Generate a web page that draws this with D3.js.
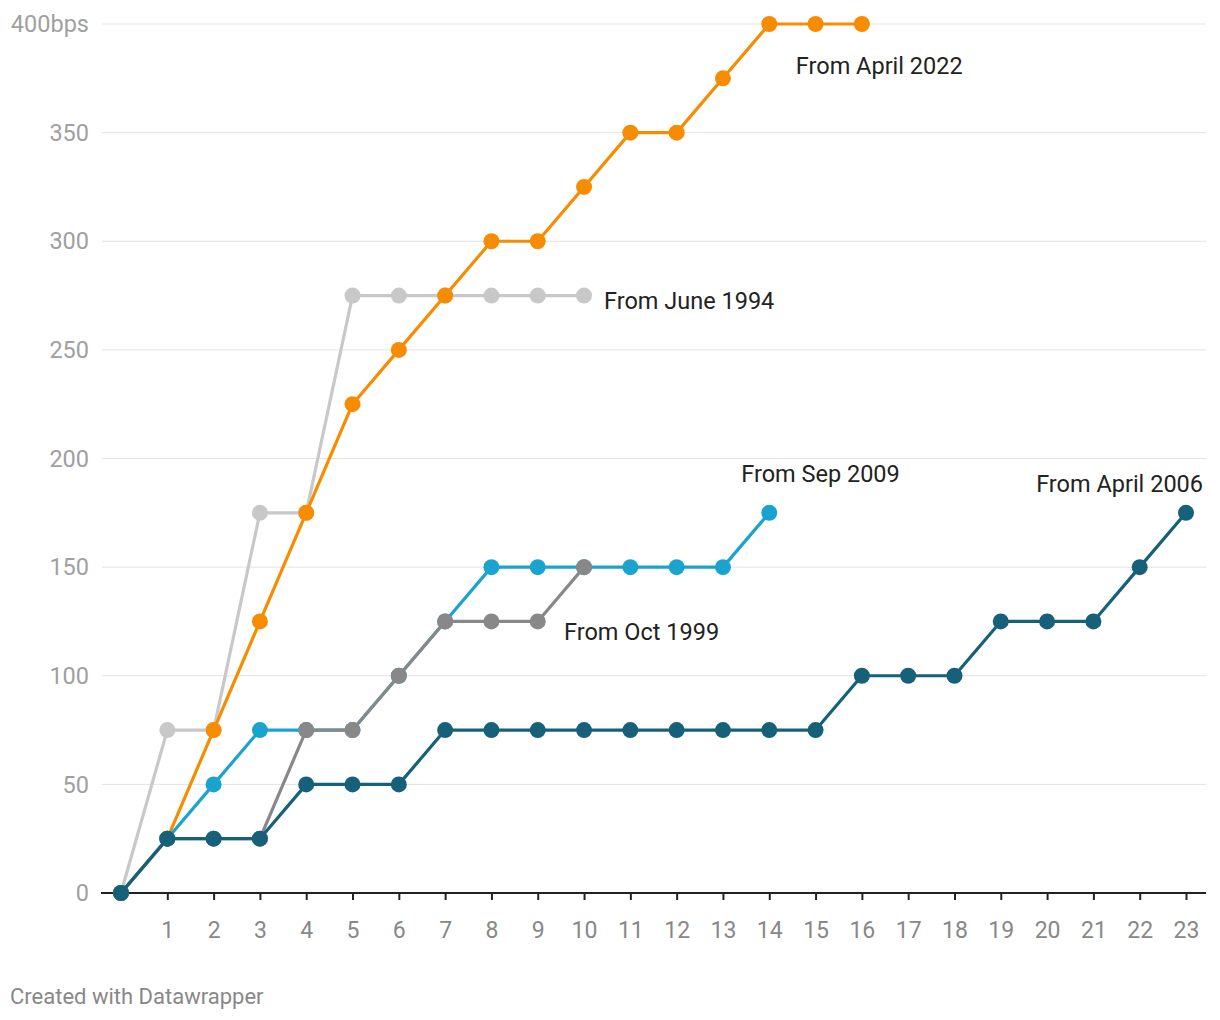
<!DOCTYPE html>
<html><head><meta charset="utf-8">
<script src="https://cdn.jsdelivr.net/npm/d3@7"></script>
<style>body{margin:0;background:#fff;font-family:Roboto,"Noto Sans",sans-serif}</style>
</head><body><svg id="c" width="1220" height="1020"></svg>
<script>
const xTicks = d3.range(1, 24);
const yTicks = [0, 50, 100, 150, 200, 250, 300, 350, 400];
const june1994 = [0, 75, 75, 175, 175, 275, 275, 275, 275, 275, 275];
const april2022 = [0, 25, 75, 125, 175, 225, 250, 275, 300, 300, 325, 350, 350, 375, 400, 400, 400];
const sep2009 = [0, 25, 50, 75, 75, 75, 100, 125, 150, 150, 150, 150, 150, 150, 175];
const oct1999 = [0, 25, 25, 25, 75, 75, 100, 125, 125, 125, 150];
const april2006 = [0, 25, 25, 25, 50, 50, 50, 75, 75, 75, 75, 75, 75, 75, 75, 75, 100, 100, 100, 125, 125, 125, 150, 175];
const seriesNames = ["From June 1994", "From April 2022", "From Sep 2009", "From Oct 1999", "From April 2006"];
const seriesColors = ["#c8c8c8", "#f88c00", "#1aa3cf", "#888888", "#17607a"];
const seriesData = [june1994, april2022, sep2009, oct1999, april2006];

const svg = d3.select("#c");
const x = d3.scaleLinear().domain([0, 23]).range([121, 1186]);
const y = d3.scaleLinear().domain([0, 400]).range([893, 24]);

// gridlines
svg.append("g").selectAll("line").data(yTicks.filter(d => d > 0)).join("line")
  .attr("x1", 102).attr("x2", 1206).attr("y1", d => y(d)).attr("y2", d => y(d))
  .attr("stroke", "#e3e3e3").attr("stroke-width", 1);
// y labels
svg.append("g").selectAll("text").data(yTicks).join("text")
  .attr("x", 89).attr("y", d => y(d)).attr("dy", "0.35em").attr("text-anchor", "end")
  .attr("fill", "#a0a0a0").attr("font-size", 23.5)
  .text(d => d === 400 ? "400bps" : d);
// x axis
const xAxis = d3.axisBottom(x).tickValues(xTicks).tickSize(7).tickPadding(22).tickFormat(d => d);
const gx = svg.append("g").attr("transform", "translate(0,893)").call(xAxis);
gx.select(".domain").remove();
gx.selectAll(".tick line").attr("stroke", "#222").attr("stroke-width", 2);
gx.selectAll(".tick text").attr("fill", "#888").attr("font-size", 23).attr("font-family", "Roboto");
svg.append("line").attr("x1", 101).attr("x2", 1206).attr("y1", 893).attr("y2", 893)
  .attr("stroke", "#222").attr("stroke-width", 2);

const line = d3.line().x((d, i) => x(i)).y(d => y(d));
seriesData.forEach((arr, k) => {
  const g = svg.append("g");
  g.append("path").attr("d", line(arr)).attr("fill", "none")
    .attr("stroke", seriesColors[k]).attr("stroke-width", 3.2).attr("stroke-linejoin", "round");
  g.selectAll("circle").data(arr).join("circle")
    .attr("cx", (d, i) => x(i)).attr("cy", d => y(d)).attr("r", 8).attr("fill", seriesColors[k]);
});

// labels
const labelPos = [
  {s: 0, dx: 20, dy: 5, anchor: "start", ref: 10},
  {s: 1, dx: -66, dy: 42, anchor: "start", ref: 16},
  {s: 2, dx: -28, dy: -39, anchor: "start", ref: 14},
  {s: 3, dx: -20, dy: 65, anchor: "start", ref: 10},
  {s: 4, dx: 17, dy: -29, anchor: "end", ref: 23}
];
labelPos.forEach(p => {
  const arr = seriesData[p.s];
  svg.append("text").attr("x", x(p.ref) + p.dx).attr("y", y(arr[p.ref]) + p.dy)
    .attr("dy", "0.35em").attr("text-anchor", p.anchor).attr("fill", "#222")
    .attr("font-size", 23.5).text(seriesNames[p.s]);
});

svg.append("text").attr("x", 10).attr("y", 1004).attr("fill", "#888").attr("font-size", 22)
  .text("Created with Datawrapper");
</script></body></html>
